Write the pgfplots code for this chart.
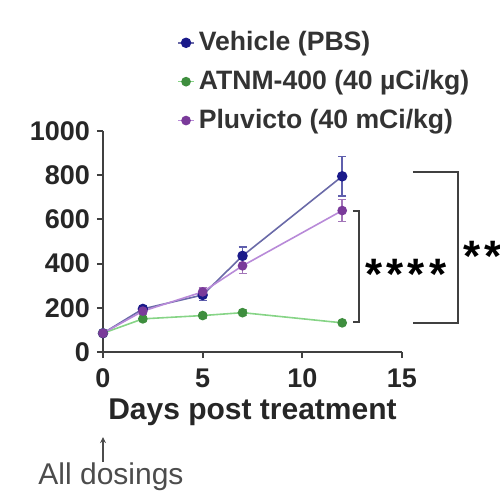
\documentclass[border=0pt]{standalone}
\usepackage{pgfplots}
\pgfplotsset{compat=1.18}
\usepackage{fontspec}
\setmainfont{Liberation Sans}
\usetikzlibrary{arrows.meta}
\definecolor{axgray}{HTML}{404040}
\definecolor{vblue}{HTML}{1A1A8A}
\definecolor{vblueline}{HTML}{6A6AA8}
\definecolor{agreen}{HTML}{3E8E3E}
\definecolor{agreenline}{HTML}{86D486}
\definecolor{ppurple}{HTML}{7A3A9A}
\definecolor{ppurpleline}{HTML}{B88AD8}
\begin{document}
\begin{tikzpicture}
\useasboundingbox (0,0) rectangle (250pt,250pt);
\begin{axis}[
  at={(51.5pt,74pt)}, anchor=south west,
  scale only axis, width=149.5pt, height=110.5pt,
  xmin=0, xmax=15, ymin=0, ymax=1000,
  axis lines=left,
  axis line style={line width=1pt, draw=axgray, -},
  tick style={line width=1pt, draw=axgray},
  tick align=outside, major tick length=3pt,
  xtick={0,5,10,15}, ytick={0,200,400,600,800,1000},
  minor tick num=0,
  ticklabel style={font=\fontsize{13.5}{14}\selectfont\bfseries, text=black!85},
  xticklabel style={yshift=-2pt},
  /pgf/number format/assume math mode=true,
  /pgf/number format/set thousands separator={},
  xlabel={Days post treatment},
  xlabel style={font=\fontsize{15}{16}\selectfont\bfseries, text=black!85, at={(axis description cs:0.5,0)}, anchor=center, yshift=-30pt},
  clip=false,
  legend style={at={(axis description cs:0.247,0.977)}, anchor=south west, draw=none, fill=none,
    font=\fontsize{13.3}{14}\selectfont\bfseries, text=black!80, row sep=4.3pt, inner sep=0pt},
  legend cell align=left,
  legend image code/.code={\draw[mark repeat=2,mark phase=2,#1] plot coordinates {(0pt,0pt)(4pt,0pt)(8pt,0pt)};},
  error bars/error bar style={line width=0.8pt},
  error bars/error mark options={rotate=90, mark size=2pt, line width=0.8pt},
]
\addplot[color=vblueline, line width=0.8pt, mark=*, mark size=2.2pt,
  mark options={draw=vblue, fill=vblue},
  error bars/.cd, y dir=both, y explicit, error bar style={color=vblue!70}]
  coordinates {(0,85) +- (0,10) (2,195) +- (0,15) (5,258) +- (0,25) (7,435) +- (0,40) (12,795) +- (0,90)};
\addlegendentry{Vehicle (PBS)}
\addplot[color=agreenline, line width=0.8pt, mark=*, mark size=2pt,
  mark options={draw=agreen, fill=agreen},
  error bars/.cd, y dir=both, y explicit, error bar style={color=agreen!70}]
  coordinates {(0,85) +- (0,10) (2,150) +- (0,10) (5,165) +- (0,10) (7,178) +- (0,12) (12,132) +- (0,8)};
\addlegendentry{ATNM-400 (40 µCi/kg)}
\addplot[color=ppurpleline, line width=0.8pt, mark=*, mark size=2pt,
  mark options={draw=ppurple, fill=ppurple},
  error bars/.cd, y dir=both, y explicit, error bar style={color=ppurple!70}]
  coordinates {(0,85) +- (0,10) (2,185) +- (0,12) (5,272) +- (0,20) (7,390) +- (0,35) (12,640) +- (0,50)};
\addlegendentry{Pluvicto (40 mCi/kg)}
\draw[line width=1pt, axgray] (axis cs:12.53,638) -- (axis cs:12.83,638) -- (axis cs:12.83,136) -- (axis cs:12.53,136);
\draw[line width=1pt, axgray] (axis cs:15.55,814) -- (axis cs:17.82,814) -- (axis cs:17.82,131) -- (axis cs:15.55,131);
\node[font=\fontsize{22}{22}\selectfont\bfseries, inner sep=0pt, yshift=-3.5pt] at (axis cs:15.2,385) {*\kern2pt*\kern2pt*\kern2pt*};
\node[font=\fontsize{22}{22}\selectfont\bfseries, inner sep=0pt, yshift=-3.5pt] at (axis cs:19.06,466) {*\kern2pt*};
\draw[-{Stealth[length=3pt,width=3pt]}, line width=0.7pt, black!70] (axis cs:0,-498) -- (axis cs:0,-385);
\node[font=\fontsize{15}{16}\selectfont, text=black!70] at (axis cs:0.4,-566) {All dosings};
\end{axis}
\end{tikzpicture}
\end{document}
